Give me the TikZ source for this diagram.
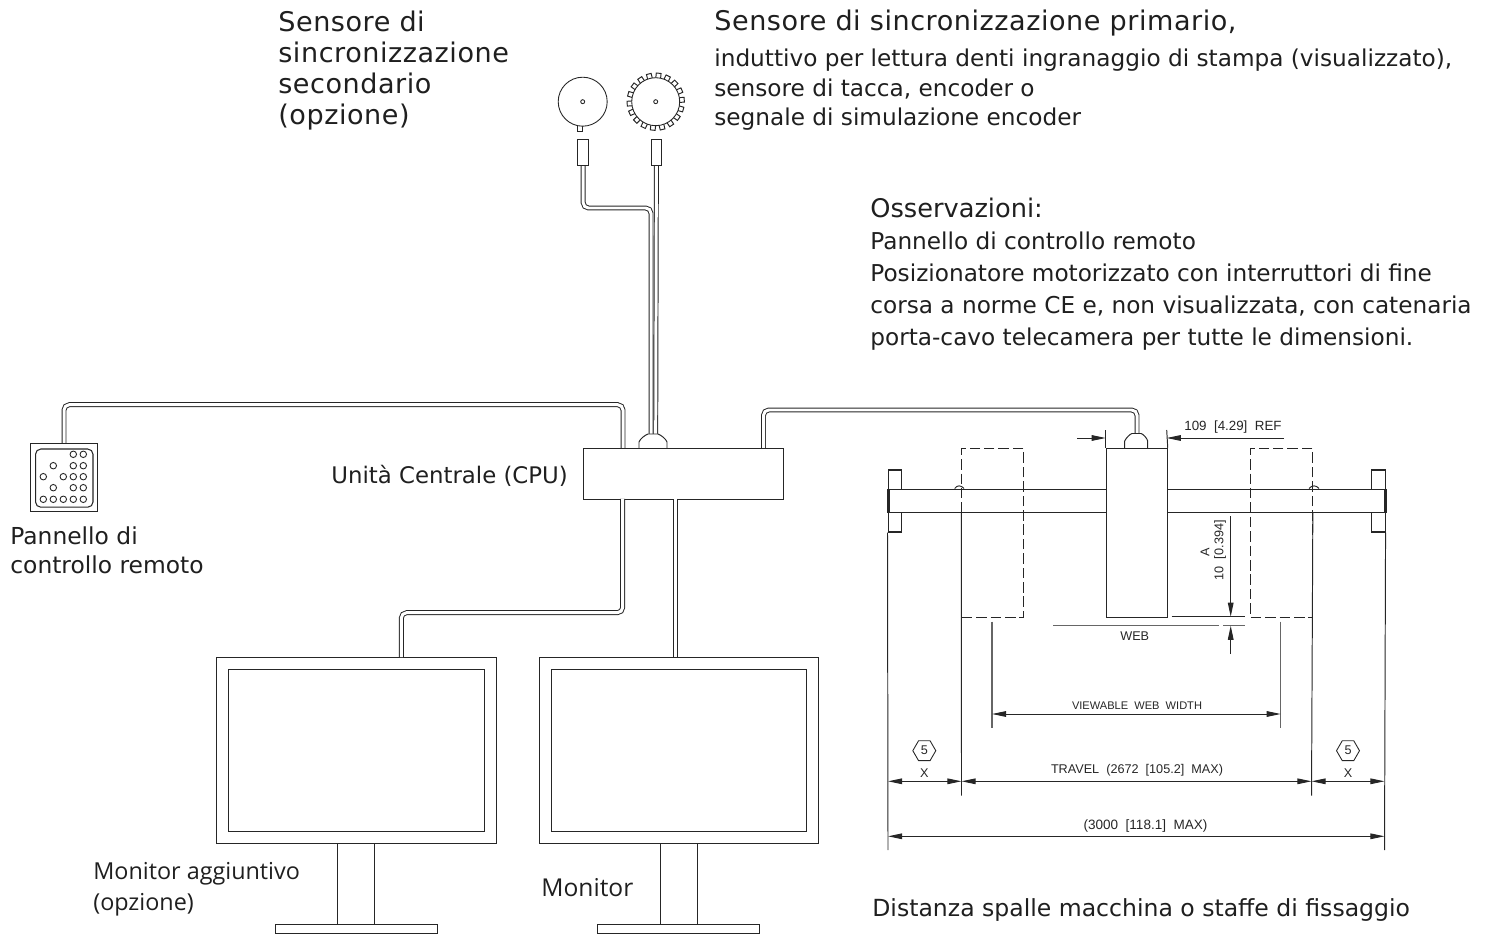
\documentclass[tikz,border=0pt]{standalone}
\usepackage{fontspec}
\setmainfont{DejaVu Sans}
\newfontfamily\monfont{Open Sans}
\newfontfamily\cadfont{Liberation Sans}
\usetikzlibrary{arrows.meta, shapes.geometric}

\begin{document}
\begin{tikzpicture}[x=0.02cm, y=-0.02cm]

    % Styles
    \tikzset{
        boxstyle/.style={rectangle, draw=black!85, line width=0.6pt, fill=white, inner sep=0pt, anchor=north west},
        roundknob/.style={circle, draw=black!85, line width=0.5pt, fill=white, inner sep=0pt, minimum size=0.13cm},
        cable/.style={draw=black!85, line width=0.55pt, double=white, double distance=1.7pt, rounded corners=3pt},
        thinline/.style={black!85, line width=0.55pt},
        dimarrow/.style={thinline, -{Stealth[length=8pt, width=3.2pt, inset=0pt]}},
        bothdim/.style={thinline, {Stealth[length=8pt, width=3.2pt, inset=0pt]}-{Stealth[length=8pt, width=3.2pt, inset=0pt]}},
        ghost/.style={boxstyle, dash pattern=on 6pt off 2.2pt, fill=none},
        biglabel/.style={inner sep=0pt, anchor=north west, align=left, text=black!88, font=\fontsize{14.6}{17.6}\selectfont},
        widelabel/.style={biglabel, font=\fontsize{15.4}{17.6}\selectfont\addfontfeature{LetterSpace=2}},
        smalllabel/.style={biglabel, font=\fontsize{13.2}{16.6}\selectfont},
        cadlabel/.style={inner sep=0pt, text=black!85, font=\cadfont\fontsize{7.2}{8}\selectfont},
        hexmark/.style={regular polygon, regular polygon sides=6, draw=black!85, line width=0.5pt, inner sep=0pt, minimum size=0.46cm, cadlabel}
    }
    \useasboundingbox (0,0) rectangle (1487,935);

    % CPU
    \node[boxstyle, minimum width=4cm, minimum height=1.02cm] (cpu) at (583,448) {};

    % Remote panel
    \node[boxstyle, minimum width=1.34cm, minimum height=1.354cm] (panel) at (30,443) {};
    \node[boxstyle, rounded corners=3pt, minimum width=1.15cm, minimum height=1.164cm] (panelin) at (35,448.5) {};
    \foreach \cx/\cy in {73.3/454.3, 83.3/454.3, 53.3/465.7, 73.3/465.7, 83.3/465.7, 43.3/476.7, 63.3/476.7, 73.3/476.7, 83.3/476.7, 53.3/487.7, 73.3/487.7, 83.3/487.7, 43.3/499.3, 53.3/499.3, 63.3/499.3, 73.3/499.3, 83.3/499.3} {
        \node[roundknob] at (\cx,\cy) {};
    }

    % Monitors
    \node[boxstyle, minimum width=5.6cm, minimum height=3.72cm] (frame1) at (216,657) {};
    \node[boxstyle, minimum width=5.12cm, minimum height=3.25cm] (screen1) at (228,668.5) {};
    \node[boxstyle, minimum width=0.74cm, minimum height=1.62cm] (neck1) at (337,843) {};
    \node[boxstyle, minimum width=3.24cm, minimum height=0.18cm] (foot1) at (275,924) {};
    \node[boxstyle, minimum width=5.59cm, minimum height=3.72cm] (frame2) at (538.5,657) {};
    \node[boxstyle, minimum width=5.11cm, minimum height=3.25cm] (screen2) at (550.5,668.5) {};
    \node[boxstyle, minimum width=0.74cm, minimum height=1.62cm] (neck2) at (660,843) {};
    \node[boxstyle, minimum width=3.24cm, minimum height=0.18cm] (foot2) at (597,924) {};

    % Encoder wheels
    \coordinate (gearb) at (655.7,101.7);
    \foreach \a in {4,24,...,344} {
        \draw[thinline, fill=white, shift={(gearb)}, rotate=\a] (22,-2.4) rectangle (28.6,2.4);
    }
    \draw[thinline, fill=white] (577,125) rectangle (582.5,131);
    \node[roundknob, minimum size=0.98cm] (wheela) at (582.7,101.7) {};
    \node[roundknob, minimum size=0.96cm] (wheelb) at (gearb) {};
    \node[roundknob, minimum size=0.08cm] (huba) at (wheela) {};
    \node[roundknob, minimum size=0.08cm] (hubb) at (wheelb) {};

    % Sensors
    \node[boxstyle, minimum width=0.21cm, minimum height=0.52cm] (sensa) at (577.4,139) {};
    \node[boxstyle, minimum width=0.21cm, minimum height=0.52cm] (sensb) at (650.6,139) {};

    % Beam and flanges
    \node[boxstyle, minimum width=0.27cm, minimum height=1.24cm] (flangel) at (887.5,469.5) {};
    \node[boxstyle, minimum width=0.27cm, minimum height=1.24cm] (flanger) at (1371,469.5) {};
    \node[boxstyle, minimum width=9.92cm, minimum height=0.46cm] (beam) at (888.5,489) {};
    \draw[black!85, line width=1.2pt] (beam.north west) -- (beam.south west);
    \draw[black!85, line width=1.2pt] (beam.north east) -- (beam.south east);
    \draw[thinline] (954.7,488.5) .. controls (957,485) and (961,485) .. (964,488.5);
    \draw[thinline] (1309,488.5) .. controls (1312,485) and (1316,485) .. (1319,488.5);

    % Carriage
    \node[boxstyle, minimum width=1.22cm, minimum height=3.38cm] (camera) at (1105.7,448) {};
    \node[ghost, minimum width=1.23cm, minimum height=3.38cm] (ghostl) at (961.3,448) {};
    \node[ghost, minimum width=1.23cm, minimum height=3.38cm] (ghostr) at (1250.3,448) {};

    % Cable end points
    \coordinate (panelbend) at (623,404.7);
    \coordinate (cputopa) at (623,448);
    \coordinate (cpubota) at (622.7,499);
    \coordinate (monbend) at (622.7,612.7);
    \coordinate (mona) at (401.3,657);
    \coordinate (cpubotb) at (675.3,499);
    \coordinate (monb) at (675.3,657);
    \coordinate (cputopc) at (763.5,448);
    \coordinate (cambend) at (1137,410);
    \coordinate (camhump) at (1137,434);
    \coordinate (senbendb) at (651,208);
    \coordinate (cpuhumpa) at (651,434);
    \coordinate (cpuhumpb) at (655.7,434);

    % Cables
    \draw[cable] (sensa.south) |- (senbendb) -- (cpuhumpa);
    \draw[cable] (sensb.south) -- (cpuhumpb);
    \draw[cable] (panel.north) |- (panelbend) -- (cputopa);
    \draw[cable] (cpubota) -- (monbend) -| (mona);
    \draw[cable] (cpubotb) -- (monb);
    \draw[cable] (cputopc) |- (cambend) -- (camhump);

    % Humps
    \draw[thinline, fill=white] (639,448) -- (639,442) .. controls (640,439) and (645,435) .. (648,434) -- (658,434) .. controls (661,435) and (666,439) .. (667,442) -- (667,448);
    \draw[thinline, fill=white] (1124.7,448) -- (1124.7,441) .. controls (1126,438) and (1130,434) .. (1132,433.5) -- (1141,433.5) .. controls (1143,434) and (1147,438) .. (1147.7,441) -- (1147.7,448);

    % Dimensions
    \coordinate (reftl) at (1077,438);
    \coordinate (reftr) at (1284,438);
    \coordinate (reftc) at (1105.7,438);
    \coordinate (reftd) at (1166.7,438);
    \draw[thinline] (camera.north west) -- (1105.7,430);
    \draw[thinline] (camera.north east) -- (1166.7,430);
    \draw[dimarrow] (reftl) -- (reftc);
    \draw[dimarrow] (reftr) -- (reftd);
    \node[cadlabel, anchor=west, font=\cadfont\fontsize{7.6}{8}\selectfont] (reftext) at (1184,427) {109\ \ [4.29]\ \ REF};

    \coordinate (weba) at (1053,625.7);
    \coordinate (webb) at (1219,625.7);
    \coordinate (webc) at (1223,625.7);
    \coordinate (webd) at (1245,625.7);
    \draw[thinline, black!60, line width=0.7pt] (weba) -- (webb);
    \draw[thinline, black!60, line width=0.7pt] (webc) -- (webd);
    \draw[thinline] (1171.7,616.7) -- (1245,616.7);
    \node[cadlabel] (webtext) at (1134.7,636) {WEB};
    \coordinate (aup) at (1230.7,516);
    \coordinate (atop) at (1230.7,616.7);
    \coordinate (alow) at (1230.7,654);
    \coordinate (abot) at (1230.7,625.7);
    \draw[dimarrow] (aup) -- (atop);
    \draw[dimarrow] (alow) -- (abot);
    \node[cadlabel, rotate=90, anchor=east] (atext) at (1220,520) {10\ \ [0.394]};
    \node[cadlabel, rotate=90] (aname) at (1205,552) {A};

    \coordinate (viewl) at (992,714);
    \coordinate (viewr) at (1280.7,714);
    \draw[thinline, black!60, line width=0.7pt] (992,621.7) -- (992,728.3);
    \draw[thinline, black!60, line width=0.7pt] (1280.7,621.7) -- (1280.7,728.3);
    \draw[bothdim] (viewl) -- (viewr);
    \node[cadlabel, font=\cadfont\fontsize{6.3}{8}\selectfont] (viewtext) at (1137,705.5) {VIEWABLE\ \ WEB\ \ WIDTH};

    \coordinate (travl) at (888,781.3);
    \coordinate (travm) at (961.5,781.3);
    \coordinate (travn) at (1311.5,781.3);
    \coordinate (travr) at (1384.5,781.3);
    \coordinate (fulll) at (888,836.3);
    \coordinate (fullr) at (1384.5,836.3);
    \draw[thinline] (flangel.south west) -- (888,850);
    \draw[thinline] (ghostl.south west |- beam.south) -- (961.5,795.7);
    \draw[thinline] (ghostr.south east |- beam.south) -- (1311.5,795.7);
    \draw[thinline] (flanger.south east) -- (1384.5,850);
    \draw[bothdim] (travl) -- (travm);
    \draw[bothdim] (travm) -- (travn);
    \draw[bothdim] (travn) -- (travr);
    \draw[bothdim] (fulll) -- (fullr);
    \node[cadlabel] (travtext) at (1137,770) {TRAVEL\ \ (2672\ \ [105.2]\ \ MAX)};
    \node[cadlabel, font=\cadfont\fontsize{7.7}{8}\selectfont] (fulltext) at (1145.5,825.5) {(3000\ \ [118.1]\ \ MAX)};
    \node[hexmark] (hexl) at (924.3,750.7) {5};
    \node[hexmark] (hexr) at (1348,750.7) {5};
    \node[cadlabel] (xl) at (924.3,772.7) {X};
    \node[cadlabel] (xr) at (1348,772.7) {X};

    % Labels
    \node[widelabel] (secondlabel) at (278,11) {Sensore di\\sincronizzazione\\secondario\\(opzione)};
    \node[widelabel] (primlabel) at (714,10) {Sensore di sincronizzazione primario,};
    \node[smalllabel] (primtext) at (714,49) {induttivo per lettura denti ingranaggio di stampa (visualizzato),\\sensore di tacca, encoder o\\segnale di simulazione encoder};
    \node[biglabel] (notehead) at (870,198) {Osservazioni:};
    \node[smalllabel, font=\fontsize{13.2}{18.1}\selectfont] (notetext) at (870,232) {Pannello di controllo remoto\\Posizionatore motorizzato con interruttori di fine\\corsa a norme CE e, non visualizzata, con catenaria\\porta-cavo telecamera per tutte le dimensioni.};
    \node[smalllabel, font=\fontsize{13}{17.6}\selectfont] (cpulabel) at (331,465) {Unità Centrale (CPU)};
    \node[smalllabel, font=\fontsize{13.3}{16.6}\selectfont] (panellabel) at (10,526) {Pannello di\\controllo remoto};
    \node[biglabel, font=\monfont\fontsize{13.3}{17.6}\selectfont] (moniax) at (93,862) {Monitor aggiuntivo\\(opzione)};
    \node[biglabel, font=\monfont\fontsize{14}{17.6}\selectfont] (monilabel) at (541,878) {Monitor};
    \node[smalllabel, font=\fontsize{13.4}{17.6}\selectfont] (spallelabel) at (872,898) {Distanza spalle macchina o staffe di fissaggio};

\end{tikzpicture}
\end{document}
